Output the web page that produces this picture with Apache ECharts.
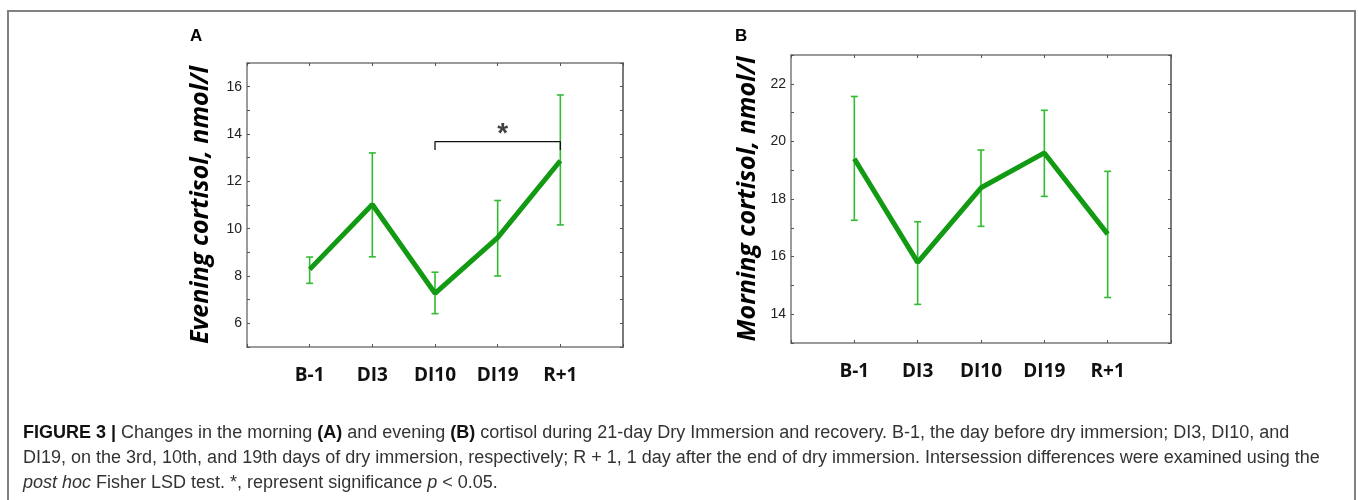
<!DOCTYPE html>
<html>
<head>
<meta charset="utf-8">
<script src="https://cdn.jsdelivr.net/npm/echarts@6/dist/echarts.min.js"></script>
<style>
html,body{margin:0;padding:0;background:#fff;}
#chart{width:1358px;height:500px;}
</style>
</head>
<body>
<div id="chart"></div>
<script>
// ---- data ----
const categories = ['B-1', 'DI3', 'DI10', 'DI19', 'R+1'];
const eveningMean = [8.28, 11.02, 7.27, 9.62, 12.87];
const eveningHigh = [8.8, 13.2, 8.16, 11.19, 15.65];
const eveningLow  = [7.69, 8.81, 6.41, 8.0, 10.16];
const morningMean = [19.4, 15.8, 18.39, 19.6, 16.78];
const morningHigh = [21.56, 17.21, 19.7, 21.08, 18.96];
const morningLow  = [17.26, 14.34, 17.05, 18.09, 14.58];
const eveningRange = [5, 17];
const morningRange = [13, 23];
const bracketFrom = 'DI10';
const bracketTo = 'R+1';
const bracketTop = 13.68;
const bracketFoot = 13.32;
const starLevel = 14.2;
const titleA = 'Evening cortisol, nmol/l';
const titleB = 'Morning cortisol, nmol/l';

const chart = echarts.init(document.getElementById('chart'), null, {renderer: 'canvas'});

const pos = c => categories.indexOf(c) + 1;
const pts = arr => arr.map((v, i) => [i + 1, v]);
const errData = (hi, lo) => hi.map((h, i) => [i + 1, lo[i], h]);

const frameColor = '#7a7a7a';
const lineGreen = '#139a13';
const errGreen = '#33bb33';

function xAxes(gi) {
  return [
    {
      gridIndex: gi, type: 'value', min: 0, max: 6, interval: 1,
      axisLine: {show: true, onZero: false, lineStyle: {color: frameColor, width: 1.5}},
      axisTick: {show: true, inside: true, length: 3, lineStyle: {color: '#555'}},
      splitLine: {show: false},
      axisLabel: {
        margin: 19,
        formatter: v => categories[v - 1] || '',
        fontFamily: 'Open Sans', fontWeight: 'bold', fontSize: 19, color: '#111'
      }
    },
    {
      gridIndex: gi, type: 'value', position: 'top', min: 0, max: 6, interval: 1,
      axisLine: {show: true, onZero: false, lineStyle: {color: frameColor, width: 1.5}},
      axisTick: {show: true, inside: true, length: 3, lineStyle: {color: '#555'}},
      splitLine: {show: false}, axisLabel: {show: false}
    }
  ];
}
function yAxes(gi, range, title, gap) {
  return [
    {
      gridIndex: gi, type: 'value', min: range[0], max: range[1], interval: 1,
      axisLine: {show: true, onZero: false, lineStyle: {color: frameColor, width: 1.5}},
      axisTick: {show: true, inside: true, length: 3, lineStyle: {color: '#555'}},
      splitLine: {show: false},
      axisLabel: {
        margin: 5, formatter: v => (v % 2 === 0 ? String(v) : ''),
        fontFamily: 'Liberation Sans', fontSize: 14, color: '#222'
      },
      name: title, nameLocation: 'middle', nameRotate: 90, nameGap: gap,
      nameTextStyle: {fontFamily: 'Open Sans', fontWeight: 'bold', fontStyle: 'italic', fontSize: 25, color: '#000'}
    },
    {
      gridIndex: gi, type: 'value', position: 'right', min: range[0], max: range[1], interval: 1,
      axisLine: {show: true, onZero: false, lineStyle: {color: frameColor, width: 2}},
      axisTick: {show: true, inside: true, length: 3, lineStyle: {color: '#555'}},
      splitLine: {show: false}, axisLabel: {show: false}
    }
  ];
}

function errorSeries(xi, yi, data) {
  return {
    type: 'custom', xAxisIndex: xi, yAxisIndex: yi, z: 2,
    data: data,
    renderItem: function (params, api) {
      const x = api.value(0);
      const lo = api.coord([x, api.value(1)]);
      const hi = api.coord([x, api.value(2)]);
      const w = 3.5;
      const style = {stroke: errGreen, lineWidth: 1.6};
      return {
        type: 'group',
        children: [
          {type: 'line', shape: {x1: lo[0], y1: lo[1], x2: hi[0], y2: hi[1]}, style: style},
          {type: 'line', shape: {x1: hi[0] - w, y1: hi[1], x2: hi[0] + w, y2: hi[1]}, style: style},
          {type: 'line', shape: {x1: lo[0] - w, y1: lo[1], x2: lo[0] + w, y2: lo[1]}, style: style}
        ]
      };
    }
  };
}

const captionColor = '#333';
const capSize = 18;
const option = {
  animation: false,
  backgroundColor: '#fff',
  grid: [
    {left: 247, top: 63, width: 376, height: 284},
    {left: 791, top: 55, width: 380, height: 288}
  ],
  xAxis: [...xAxes(0), ...xAxes(1)],
  yAxis: [...yAxes(0, eveningRange, titleA, 34), ...yAxes(1, morningRange, titleB, 31)],
  series: [
    errorSeries(0, 0, errData(eveningHigh, eveningLow)),
    {
      type: 'line', xAxisIndex: 0, yAxisIndex: 0, z: 3,
      data: pts(eveningMean), showSymbol: false,
      lineStyle: {color: lineGreen, width: 5}
    },
    {
      type: 'line', xAxisIndex: 0, yAxisIndex: 0, z: 3,
      data: [[pos(bracketFrom), bracketFoot], [pos(bracketFrom), bracketTop],
             [pos(bracketTo), bracketTop], [pos(bracketTo), bracketFoot]],
      showSymbol: false, lineStyle: {color: '#111', width: 1.3}
    },
    {
      type: 'scatter', xAxisIndex: 0, yAxisIndex: 0, z: 4,
      data: [[(pos(bracketFrom) + pos(bracketTo)) / 2 + 0.08, starLevel]],
      symbolSize: 1, itemStyle: {color: 'transparent'},
      label: {show: true, position: 'inside', formatter: '*', fontFamily: 'Liberation Sans',
        fontWeight: 'bold', fontSize: 28, color: '#111', offset: [0, 5]}
    },
    errorSeries(2, 2, errData(morningHigh, morningLow)),
    {
      type: 'line', xAxisIndex: 2, yAxisIndex: 2, z: 3,
      data: pts(morningMean), showSymbol: false,
      lineStyle: {color: lineGreen, width: 5}
    }
  ],
  graphic: [
    {type: 'rect', shape: {x: 8, y: 11, width: 1347, height: 500}, style: {fill: 'none', stroke: '#808080', lineWidth: 2}, silent: true},
    {type: 'text', left: 190, top: 28, style: {text: 'A', fontFamily: 'Liberation Sans', fontWeight: 'bold', fontSize: 17, fill: '#000'}},
    {type: 'text', left: 735, top: 28, style: {text: 'B', fontFamily: 'Liberation Sans', fontWeight: 'bold', fontSize: 17, fill: '#000'}},
    {type: 'text', x: 23, y: 433, style: {
      text: '{b|FIGURE 3 |} Changes in the morning {b|(A)} and evening {b|(B)} cortisol during 21-day Dry Immersion and recovery. B-1, the day before dry immersion; DI3, DI10, and',
      fontFamily: 'Liberation Sans', fontSize: capSize, fill: captionColor, verticalAlign: 'middle',
      rich: {b: {fontFamily: 'Liberation Sans', fontWeight: 'bold', fontSize: capSize, fill: '#111'}}
    }},
    {type: 'text', x: 23, y: 458, style: {
      text: 'DI19, on the 3rd, 10th, and 19th days of dry immersion, respectively; R + 1, 1 day after the end of dry immersion. Intersession differences were examined using the',
      fontFamily: 'Liberation Sans', fontSize: capSize, fill: captionColor, verticalAlign: 'middle'
    }},
    {type: 'text', x: 23, y: 483, style: {
      text: '{i|post hoc} Fisher LSD test. *, represent significance {i|p} < 0.05.',
      fontFamily: 'Liberation Sans', fontSize: capSize, fill: captionColor, verticalAlign: 'middle',
      rich: {i: {fontFamily: 'Liberation Sans', fontStyle: 'italic', fontSize: capSize, fill: captionColor}}
    }}
  ]
};
chart.setOption(option);
</script>
</body>
</html>
